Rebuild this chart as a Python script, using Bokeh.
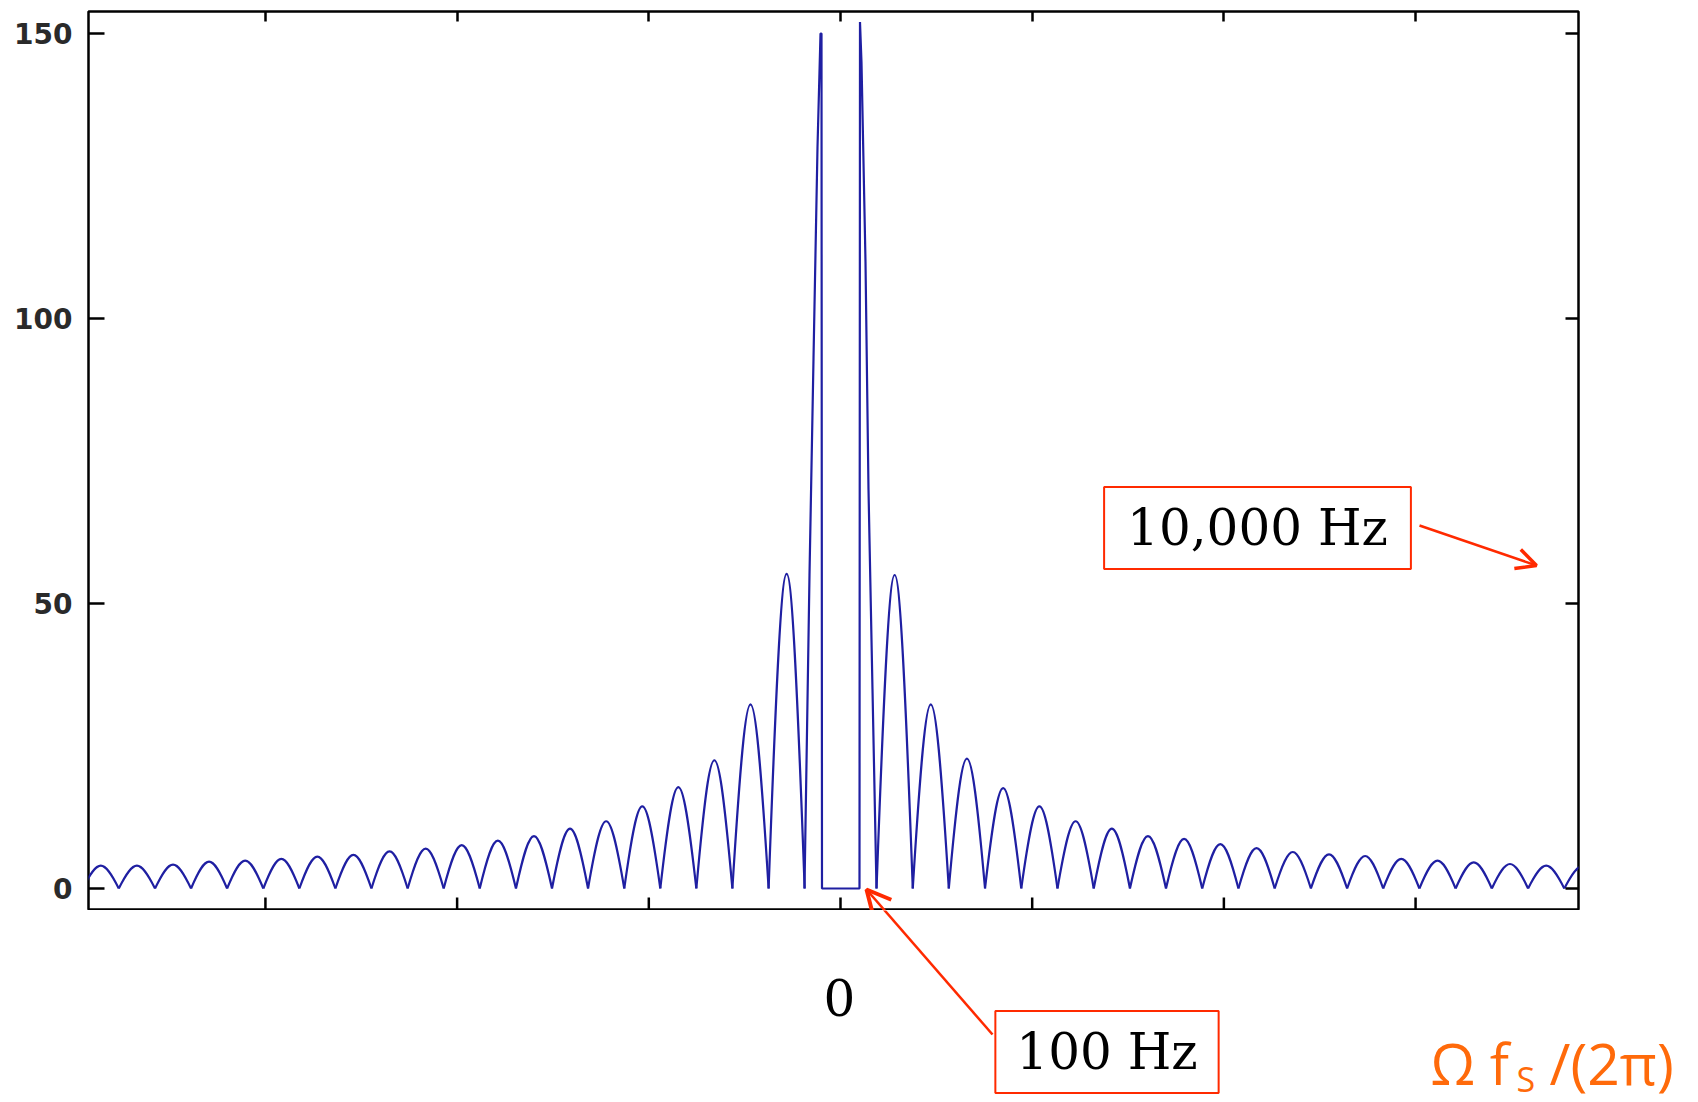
from bokeh.plotting import figure
from bokeh.layouts import column
from bokeh.models import Range1d, FixedTicker, LinearAxis, Label, Arrow, OpenHead
from bokeh.models import ColumnDataSource
from bokeh.embed import file_html
from bokeh.resources import INLINE

# ---------------- data ----------------
# zero crossings (nulls) of the side lobes, left of the main peaks (x in normalised units)
left_nulls = [-0.3953, -0.3765, -0.3576, -0.3388, -0.3200, -0.3011, -0.2823, -0.2635,
              -0.2447, -0.2258, -0.2070, -0.1882, -0.1693, -0.1505, -0.1317, -0.1128,
              -0.0940, -0.0752, -0.0564, -0.0375, -0.0187]
# peak height of each left side lobe (outer -> inner)
left_peaks = [4.0, 4.0, 4.2, 4.7, 4.9, 5.2, 5.6, 5.9, 6.5, 7.0, 7.6, 8.4, 9.2, 10.5,
              11.8, 14.4, 17.8, 22.5, 32.3, 55.2]
# nulls right of the main peaks
right_nulls = [0.0188, 0.0377, 0.0565, 0.0754, 0.0943, 0.1132, 0.1321, 0.1510, 0.1698,
               0.1887, 0.2076, 0.2265, 0.2454, 0.2643, 0.2831, 0.3020, 0.3209, 0.3398,
               0.3587, 0.3776, 0.3965]
# peak height of each right side lobe (inner -> outer)
right_peaks = [55.0, 32.3, 22.8, 17.6, 14.4, 11.8, 10.5, 9.2, 8.7, 7.8, 7.1, 6.4, 6.0,
               5.7, 5.2, 4.9, 4.6, 4.3, 4.0, 3.9]
# the two main peaks and the flat gap between them
center_x = [-0.01878, -0.01617, -0.01408, -0.01200, -0.01043, -0.00991, -0.00965,
            0.00991, 0.01017, 0.01095, 0.01304, 0.01461, 0.01669, 0.01878]
center_y = [0, 55, 93, 130, 150, 150, 0, 0, 152, 145, 110, 70, 35, 0]

y_ticks = [0, 50, 100, 150]
x_ticks = [-0.3, -0.2, -0.1, 0.0, 0.1, 0.2, 0.3]

X_START, X_END = -0.3923, 0.3850
Y_START, Y_END = -3.86, 153.86

LINE = "#1f1fa2"
RED = "#ff2a00"
ORANGE = "#ff6a0a"

W = 1698
H_MAIN = 910
H_LOW = 192


# page pixel -> data units (frame spans x 88..1578, y 11..910 of the page)
def ux(px):
    return X_START + (px - 88) * (X_END - X_START) / 1490.0


def uy(py):
    return Y_END - (py - 11) * (Y_END - Y_START) / 899.0


# ---------------- main plot ----------------
p = figure(width=W, height=H_MAIN,
           x_range=Range1d(X_START, X_END), y_range=Range1d(Y_START, Y_END),
           x_axis_location="above",
           output_backend="svg", toolbar_location=None,
           min_border_left=88, min_border_right=W - 1578, min_border_top=11, min_border_bottom=0)
p.frame_align = False
p.background_fill_color = "white"
p.border_fill_color = "white"
p.outline_line_color = "black"
p.outline_line_width = 2.5
p.xgrid.visible = False
p.ygrid.visible = False


def lobe_source(nulls, peaks):
    x0 = nulls[:-1]
    x1 = nulls[1:]
    w = [b - a for a, b in zip(x0, x1)]
    return ColumnDataSource(dict(
        x0=x0, x1=x1, y0=[0] * len(peaks), y1=[0] * len(peaks),
        cx0=[a + 0.424 * d for a, d in zip(x0, w)],
        cx1=[a + 0.576 * d for a, d in zip(x0, w)],
        cy0=[h * 4 / 3 for h in peaks],
        cy1=[h * 4 / 3 for h in peaks],
    ))


for nulls, peaks in ((left_nulls, left_peaks), (right_nulls, right_peaks)):
    p.bezier(x0="x0", y0="y0", x1="x1", y1="y1", cx0="cx0", cy0="cy0", cx1="cx1", cy1="cy1",
             source=lobe_source(nulls, peaks), line_color=LINE, line_width=2.2)

p.line(center_x, center_y, line_color=LINE, line_width=2.2)

# bottom ticks (inward), drawn at the tick positions
tick_len = 13 * (Y_END - Y_START) / 899.0
p.segment(x0=x_ticks, y0=[Y_START] * len(x_ticks), x1=x_ticks,
          y1=[Y_START + tick_len] * len(x_ticks), line_color="black", line_width=2.5)


def style_axis(ax, ticks, tick_in, labels=False):
    ax.ticker = FixedTicker(ticks=ticks)
    ax.axis_line_color = None
    ax.major_tick_in = tick_in
    ax.major_tick_out = 0
    ax.minor_tick_in = 0
    ax.minor_tick_out = 0
    ax.major_tick_line_color = "black"
    ax.major_tick_line_width = 2.5
    if labels:
        ax.major_label_text_font = "DejaVu Sans"
        ax.major_label_text_font_size = "28px"
        ax.major_label_text_font_style = "bold"
        ax.major_label_text_color = "#2a2a2a"
        ax.major_label_standoff = 16
    else:
        ax.major_label_overrides = {t: "" for t in ticks}
        ax.major_label_text_font_size = "6px"
        ax.major_label_standoff = 0


right_ax = LinearAxis()
p.add_layout(right_ax, "right")

style_axis(p.yaxis[0], y_ticks, 16, labels=True)
style_axis(p.xaxis[0], x_ticks, 10)
style_axis(right_ax, y_ticks, 13)

box_kw = dict(text_font="DejaVu Serif", text_font_size="50px", text_color="black",
              text_align="center", text_baseline="middle",
              border_line_color=RED, border_line_width=2,
              background_fill_color="white")

p.add_layout(Label(x=ux(1257), y=uy(527.5), text="10,000 Hz", padding=(23, 12), **box_kw))
p.add_layout(Arrow(x_start=ux(1419), y_start=uy(525), x_end=ux(1536), y_end=uy(565),
                   line_color=RED, line_width=2.5,
                   end=OpenHead(size=20, line_color=RED, line_width=3.5)))
# arrow towards the 100 Hz peak (the part inside the axes)
p.add_layout(Arrow(x_start=ux(992), y_start=uy(1034), x_end=ux(866), y_end=uy(889),
                   line_color=RED, line_width=2.5,
                   end=OpenHead(size=24, line_color=RED, line_width=4)))

# ---------------- area below the axes (annotations) ----------------
q = figure(width=W, height=H_LOW,
           x_range=Range1d(ux(0), ux(W)), y_range=Range1d(uy(H_MAIN + H_LOW), uy(H_MAIN)),
           x_axis_type=None, y_axis_type=None,
           output_backend="svg", toolbar_location=None,
           min_border_left=0, min_border_right=0, min_border_top=0, min_border_bottom=0)
q.frame_align = False
q.background_fill_color = "white"
q.border_fill_color = "white"
q.outline_line_color = None

# the rest of the arrow line
q.add_layout(Arrow(x_start=ux(992), y_start=uy(1034), x_end=ux(866), y_end=uy(889),
                   line_color=RED, line_width=2.5, end=None))

q.add_layout(Label(x=ux(1106.5), y=uy(1051.5), text="100 Hz", padding=(21, 12), **box_kw))

q.add_layout(Label(x=ux(839), y=uy(996.5), text="0", text_font="DejaVu Serif",
                   text_font_size="50px", text_color="black",
                   text_align="center", text_baseline="middle"))

orange_kw = dict(text_font="Open Sans", text_color=ORANGE, text_baseline="middle",
                 text_align="left")
q.add_layout(Label(x=ux(1430), y=uy(1062), text="Ω f", text_font_size="57px", **orange_kw))
q.add_layout(Label(x=ux(1516), y=uy(1078), text="S", text_font_size="34px", **orange_kw))
q.add_layout(Label(x=ux(1549), y=uy(1062), text="/(2π)", text_font_size="57px", **orange_kw))

layout = column(p, q, spacing=0)
open("out.html", "w").write(file_html(layout, INLINE))
